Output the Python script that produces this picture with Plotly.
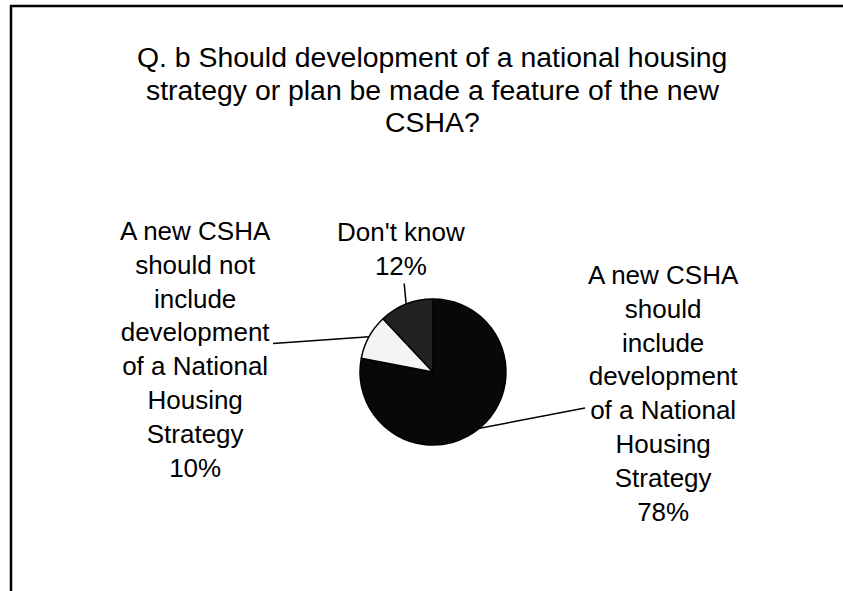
import math
import plotly.graph_objects as go

# Survey responses (percent of respondents)
categories = [
    "A new CSHA\nshould\ninclude\ndevelopment\nof a National\nHousing\nStrategy",
    "A new CSHA\nshould not\ninclude\ndevelopment\nof a National\nHousing\nStrategy",
    "Don't know",
]
values = [78, 10, 12]
colors = ["#080808", "#f4f4f4", "#222222"]

title_lines = [
    "Q. b Should development of a national housing",
    "strategy or plan be made a feature of the new",
    "CSHA?",
]

W, H = 843, 591
FONT = "Arial, Liberation Sans, sans-serif"

# pie placement (pixels)
cx, cy, r = 433, 372, 73
# label block centres (pixels)
label_pos = [(663, 393), (195, 349), (401, 249)]
# title line centres (pixels)
title_x, title_y0, title_dy = 432, 57, 32.5

fig = go.Figure()
fig.add_trace(go.Pie(
    labels=[c.replace("\n", " ") for c in categories],
    values=values,
    sort=False,
    direction="clockwise",
    rotation=0,
    textinfo="none",
    hoverinfo="label+percent",
    marker=dict(colors=colors, line=dict(color="#000000", width=1.5)),
    domain=dict(x=[(cx - r) / W, (cx + r) / W],
                y=[1 - (cy + r) / H, 1 - (cy - r) / H]),
    showlegend=False,
))

total = sum(values)
cum = 0.0
annotations = []
for cat, v, (lx, ly) in zip(categories, values, label_pos):
    mid = (cum + v / 2) / total
    cum += v
    th = 2 * math.pi * mid
    tx = cx + r * math.sin(th)
    ty = cy - r * math.cos(th)
    annotations.append(dict(
        x=tx / W, y=1 - ty / H, xref="paper", yref="paper",
        text=cat.replace("\n", "<br>") + f"<br>{v}%",
        showarrow=True, arrowhead=0, arrowwidth=1.5, arrowcolor="#000000",
        ax=lx - tx, ay=ly - ty, axref="pixel", ayref="pixel",
        align="center", borderpad=2,
        font=dict(family=FONT, size=26, color="#000000"),
    ))

for i, line in enumerate(title_lines):
    annotations.append(dict(
        x=title_x / W, y=1 - (title_y0 + i * title_dy) / H,
        xref="paper", yref="paper",
        text=line, showarrow=False, xanchor="center", yanchor="middle",
        font=dict(family=FONT, size=28.4, color="#000000"),
    ))

fig.update_layout(
    width=W, height=H,
    margin=dict(l=0, r=0, t=0, b=0),
    paper_bgcolor="#ffffff",
    plot_bgcolor="#ffffff",
    annotations=annotations,
    shapes=[dict(type="rect", xref="paper", yref="paper",
                 x0=11 / W, x1=1.2, y0=-0.2, y1=1 - 6 / H,
                 line=dict(color="#000000", width=2.5))],
)

fig.write_html("out.html")
